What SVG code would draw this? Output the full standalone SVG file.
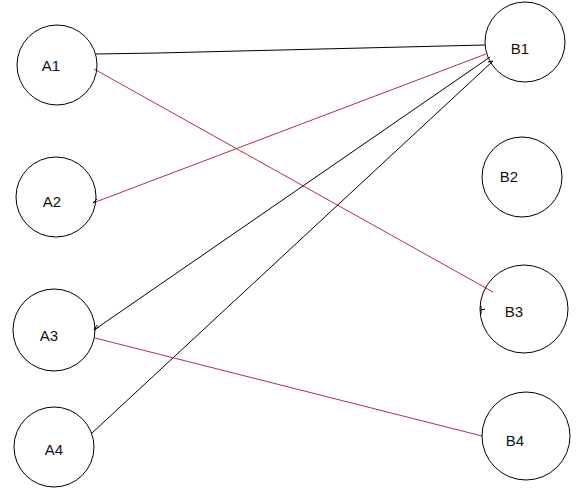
<svg xmlns="http://www.w3.org/2000/svg" width="577" height="493" viewBox="0 0 577 493">
<style>
.n{fill:none;stroke:#000;stroke-width:1}
.t{font-family:"Liberation Sans",Arial,sans-serif;font-size:15px;fill:#111;text-anchor:middle}
.k{stroke:#000;stroke-width:1;fill:none}
.r{stroke:#b03040;stroke-width:1;fill:none}
</style>
<rect width="577" height="493" fill="#fff"/>
<g id="connectors">
<path class="k" d="M96,54 L158,53 L485,45"/>
<path class="r" d="M94,69 L493,292"/>
<path class="k" d="M481,306 L481,314 M481,310 L485,309"/>
<path class="r" d="M486,54 L93,203"/>
<path class="k" d="M93,203 L97,199"/>
<path class="k" d="M490,57 L94,330"/>
<path class="k" d="M94,330 L99,327 M94,330 L97,325"/>
<path class="k" d="M92,433 L493,61"/>
<path class="k" d="M493,61 L488,62"/>
<path class="r" d="M95,338 L482,436"/>
</g>
<g id="A1"><circle class="n" cx="57" cy="65" r="40"/><text class="t" x="51" y="71">A1</text></g>
<g id="A2"><circle class="n" cx="56" cy="197" r="40"/><text class="t" x="52" y="207">A2</text></g>
<g id="A3"><circle class="n" cx="54" cy="330" r="41"/><text class="t" x="49" y="341">A3</text></g>
<g id="A4"><circle class="n" cx="54" cy="447" r="40"/><text class="t" x="54" y="455">A4</text></g>
<g id="B1"><circle class="n" cx="525" cy="42" r="40"/><text class="t" x="520" y="54">B1</text></g>
<g id="B2"><circle class="n" cx="522" cy="177" r="40"/><text class="t" x="509" y="182">B2</text></g>
<g id="B3"><circle class="n" cx="524" cy="309" r="44"/><text class="t" x="514" y="317">B3</text></g>
<g id="B4"><circle class="n" cx="526" cy="436" r="44"/><text class="t" x="515" y="446">B4</text></g>
</svg>
